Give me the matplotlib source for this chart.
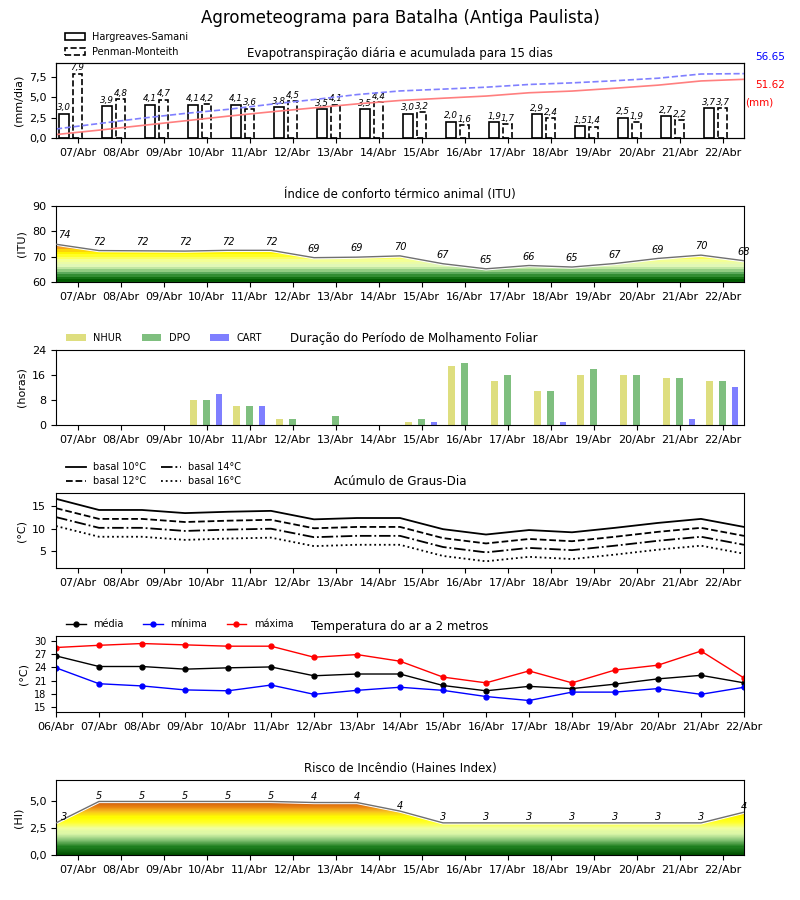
import numpy as np
import matplotlib
matplotlib.use("Agg")
import matplotlib.pyplot as plt
from matplotlib.colors import LinearSegmentedColormap, Normalize
from matplotlib.patches import Patch
from matplotlib.ticker import FuncFormatter

plt.rcParams["font.family"] = ["DejaVu Sans"]

# datas (17 pontos: 06/Abr .. 22/Abr)
datas = ["06/Abr", "07/Abr", "08/Abr", "09/Abr", "10/Abr", "11/Abr", "12/Abr", "13/Abr",
         "14/Abr", "15/Abr", "16/Abr", "17/Abr", "18/Abr", "19/Abr", "20/Abr", "21/Abr", "22/Abr"]
dias = datas[1:]

# evapotranspiracao diaria (mm/dia)
et_hs = [3.0, 3.9, 4.1, 4.1, 4.1, 3.8, 3.5, 3.5, 3.0, 2.0, 1.9, 2.9, 1.5, 2.5, 2.7, 3.7]
et_pm = [7.9, 4.8, 4.7, 4.2, 3.6, 4.5, 4.1, 4.4, 3.2, 1.6, 1.7, 2.4, 1.4, 1.9, 2.2, 3.7]
# acumulada (mm)
et_hs_acum = [3.0, 6.9, 11.0, 15.1, 19.2, 23.0, 26.5, 30.0, 33.0, 35.0, 36.9, 39.8, 41.3, 43.8, 46.5, 50.2, 51.62]
et_pm_acum = [7.9, 12.7, 17.4, 21.6, 25.2, 29.7, 33.8, 38.2, 41.4, 43.0, 44.7, 47.1, 48.5, 50.4, 52.6, 56.3, 56.65]

# ITU
itu = [74.9, 72.4, 72.3, 72.2, 72.5, 72.5, 69.6, 69.8, 70.3, 67.2, 65.2, 66.5, 65.9, 67.3, 69.3, 70.6, 68.4]

# molhamento foliar (horas)
nhur = [0, 0, 0, 8, 6, 2, 0, 0, 1, 19, 14, 11, 16, 16, 15, 14]
dpo = [0, 0, 0, 8, 6, 2, 3, 0, 2, 20, 16, 11, 18, 16, 15, 14]
cart = [0, 0, 0, 10, 6, 0, 0, 0, 1, 0, 0, 1, 0, 0, 2, 12]

# graus-dia
gd10 = [16.7, 14.2, 14.2, 13.5, 13.8, 14.0, 12.1, 12.4, 12.4, 9.9, 8.7, 9.7, 9.2, 10.2, 11.3, 12.2, 10.4]
gd12 = [14.6, 12.2, 12.2, 11.5, 11.8, 12.0, 10.1, 10.4, 10.4, 7.9, 6.7, 7.7, 7.2, 8.2, 9.3, 10.2, 8.4]
gd14 = [12.6, 10.2, 10.2, 9.5, 9.8, 10.0, 8.1, 8.4, 8.4, 5.9, 4.7, 5.7, 5.2, 6.2, 7.3, 8.2, 6.4]
gd16 = [10.6, 8.2, 8.2, 7.5, 7.8, 8.0, 6.1, 6.4, 6.4, 3.9, 2.7, 3.7, 3.2, 4.2, 5.3, 6.2, 4.4]

# temperatura do ar
t_med = [26.6, 24.2, 24.2, 23.6, 23.9, 24.1, 22.1, 22.5, 22.5, 19.9, 18.7, 19.7, 19.2, 20.2, 21.4, 22.2, 20.5]
t_min = [23.9, 20.3, 19.8, 18.9, 18.7, 20.0, 17.9, 18.8, 19.5, 18.8, 17.4, 16.5, 18.4, 18.4, 19.2, 17.9, 19.5]
t_max = [28.5, 29.0, 29.4, 29.1, 28.8, 28.8, 26.3, 26.9, 25.4, 21.8, 20.5, 23.2, 20.5, 23.4, 24.5, 27.7, 21.6]

# Haines
haines = [3.0, 5.0, 5.0, 5.0, 5.0, 5.0, 4.9, 4.9, 4.1, 3.0, 3.0, 3.0, 3.0, 3.0, 3.0, 3.0, 4.0]

virgula = FuncFormatter(lambda v, p: f"{v:.1f}".replace(".", ","))

itu_cmap = LinearSegmentedColormap.from_list("itu", [
    (0.0, "#005c00"), (0.05, "#1f7f1f"), (0.1, "#5aa95a"), (0.15, "#a6d890"),
    (0.2, "#e0f8b8"), (0.27, "#f2ff9c"), (0.32, "#ffff50"), (0.37, "#ffff00"),
    (0.4, "#ffe400"), (0.45, "#f4a020"), (0.5, "#e07010"), (1.0, "#c02000")])

hi_cmap = LinearSegmentedColormap.from_list("hi", [
    (0.0, "#005000"), (0.1, "#1f7f1f"), (0.2, "#8cc87a"), (0.28, "#d8f5a8"),
    (0.35, "#f0ffa0"), (0.43, "#ffff30"), (0.5, "#ffff00"), (0.58, "#f8c020"),
    (0.65, "#e88010"), (0.71, "#d06010"), (1.0, "#a03000")])


def fill_gradient(ax, x, y, y0, y1, cmap, nrows):
    poly = ax.fill_between(x, y0, y, facecolor="none", edgecolor="none")
    grad = np.linspace(y0, y1, nrows).reshape(-1, 1)
    im = ax.imshow(grad, extent=[x[0], x[-1], y0, y1], origin="lower", aspect="auto",
                   cmap=cmap, norm=Normalize(y0, y1), interpolation="nearest", zorder=1)
    im.set_clip_path(poly.get_paths()[0], transform=ax.transData)
    ax.plot(x, y, color="white", lw=2.4, zorder=2)
    ax.plot(x, y, color="#707070", lw=1.0, zorder=3)


def eixo_dias(ax):
    ax.set_xlim(-0.5, len(dias) - 0.5)
    ax.set_xticks(range(len(dias)))
    ax.set_xticklabels(dias, fontsize=8)
    ax.tick_params(axis="y", labelsize=8)


fig = plt.figure(figsize=(8, 9), dpi=100)
fig.suptitle("Agrometeograma para Batalha (Antiga Paulista)", fontsize=12, y=0.99)

L, W = 0.07, 0.86
x_dia = np.arange(len(dias))
x_borda = np.arange(len(datas)) - 0.5

# 1) evapotranspiracao
ax1 = fig.add_axes([L, 0.8467, W, 0.0833])
ax1.bar(x_dia - 0.31, et_hs, width=0.22, facecolor="white", edgecolor="black", lw=1.2, zorder=2)
ax1.bar(x_dia, et_pm, width=0.22, facecolor="white", edgecolor="black", lw=1.2, ls="--", zorder=2)
for i in range(len(dias)):
    ax1.text(x_dia[i] - 0.31, et_hs[i] + 0.15, f"{et_hs[i]:.1f}".replace(".", ","),
             ha="center", va="bottom", fontsize=6.3, style="italic")
    ax1.text(x_dia[i], et_pm[i] + 0.15, f"{et_pm[i]:.1f}".replace(".", ","),
             ha="center", va="bottom", fontsize=6.3, style="italic")
eixo_dias(ax1)
ax1.set_ylim(0, 9.2)
ax1.set_yticks([0, 2.5, 5, 7.5])
ax1.yaxis.set_major_formatter(virgula)
ax1.set_ylabel("(mm/dia)", fontsize=8)
ax1.set_title("Evapotranspiração diária e acumulada para 15 dias", fontsize=8.5, pad=4)
ax1b = ax1.twinx()
ax1b.plot(x_borda, et_hs_acum, color="#ff7f7f", lw=1.2)
ax1b.plot(x_borda, et_pm_acum, color="#8080ff", lw=1.2, ls="--")
ax1b.set_ylim(0, 66)
ax1b.set_yticks([])
ax1.legend(handles=[Patch(facecolor="white", edgecolor="black", lw=1.2, label="Hargreaves-Samani"),
                    Patch(facecolor="white", edgecolor="black", lw=1.2, ls="--", label="Penman-Monteith")],
           loc="lower left", bbox_to_anchor=(0.005, 1.0), frameon=False, fontsize=7,
           handlelength=2.0, borderpad=0.1, labelspacing=0.5)
fig.text(0.9435, 0.933, f"{et_pm_acum[-1]:.2f}", color="blue", fontsize=7.5)
fig.text(0.9435, 0.902, f"{et_hs_acum[-1]:.2f}", color="red", fontsize=7.5)
fig.text(0.932, 0.883, "(mm)", color="red", fontsize=7.5)

# 2) ITU
ax2 = fig.add_axes([L, 0.6867, W, 0.0844])
fill_gradient(ax2, x_borda, itu, 60, 90, itu_cmap, 30)
for i, v in enumerate(itu):
    xt = x_borda[i] + (0.2 if i == 0 else 0)
    ax2.text(xt, v + 1.5, str(int(v)), ha="center", va="bottom", fontsize=7, style="italic")
eixo_dias(ax2)
ax2.set_ylim(60, 90)
ax2.set_yticks([60, 70, 80, 90])
ax2.set_ylabel("(ITU)", fontsize=8)
ax2.set_title("Índice de conforto térmico animal (ITU)", fontsize=8.5, pad=6)

# 3) molhamento foliar
ax3 = fig.add_axes([L, 0.5278, W, 0.0833])
ax3.bar(x_dia - 0.3, nhur, width=0.16, color="y", alpha=0.5, label="NHUR")
ax3.bar(x_dia, dpo, width=0.16, color="g", alpha=0.5, label="DPO")
ax3.bar(x_dia + 0.29, cart, width=0.16, color="b", alpha=0.5, label="CART")
eixo_dias(ax3)
ax3.set_ylim(0, 24)
ax3.set_yticks([0, 8, 16, 24])
ax3.set_ylabel("(horas)", fontsize=8)
ax3.set_title("Duração do Período de Molhamento Foliar", fontsize=8.5, pad=6, x=0.52)
ax3.legend(loc="lower left", bbox_to_anchor=(0.005, 1.0), ncol=3, frameon=False, fontsize=7,
           handlelength=2.0, columnspacing=2.0, borderpad=0.2)

# 4) graus-dia
ax4 = fig.add_axes([L, 0.3689, W, 0.0833])
ax4.plot(x_borda, gd10, color="black", lw=1.3, ls="-", label="basal 10°C")
ax4.plot(x_borda, gd12, color="black", lw=1.3, ls="--", label="basal 12°C")
ax4.plot(x_borda, gd14, color="black", lw=1.3, ls="-.", label="basal 14°C")
ax4.plot(x_borda, gd16, color="black", lw=1.3, ls=":", label="basal 16°C")
eixo_dias(ax4)
ax4.set_ylim(1.2, 18.0)
ax4.set_yticks([5, 10, 15])
ax4.set_ylabel("(°C)", fontsize=8)
ax4.set_title("Acúmulo de Graus-Dia", fontsize=8.5, pad=6)
ax4.legend(loc="lower left", bbox_to_anchor=(0.005, 1.0), ncol=2, frameon=False, fontsize=7,
           handlelength=2.0, columnspacing=1.5, labelspacing=0.4, borderpad=0.2)

# 5) temperatura
ax5 = fig.add_axes([L, 0.2089, W, 0.0844])
x_t = np.arange(len(datas))
ax5.plot(x_t, t_med, color="black", lw=1, marker="o", ms=3.5, label="média")
ax5.plot(x_t, t_min, color="blue", lw=1, marker="o", ms=3.5, label="mínima")
ax5.plot(x_t, t_max, color="red", lw=1, marker="o", ms=3.5, label="máxima")
ax5.set_xlim(0, len(datas) - 1)
ax5.set_xticks(x_t)
ax5.set_xticklabels(datas, fontsize=8)
ax5.set_ylim(13.9, 31.1)
ax5.set_yticks([15, 18, 21, 24, 27, 30])
ax5.tick_params(axis="y", labelsize=7)
ax5.set_ylabel("(°C)", fontsize=8)
ax5.set_title("Temperatura do ar a 2 metros", fontsize=8.5, pad=4)
ax5.legend(loc="lower left", bbox_to_anchor=(0.005, 1.0), ncol=3, frameon=False, fontsize=7,
           handlelength=2.0, columnspacing=2.0, borderpad=0.2)

# 6) Haines
ax6 = fig.add_axes([L, 0.05, W, 0.0833])
fill_gradient(ax6, x_borda, haines, 0, 7, hi_cmap, 70)
for i, v in enumerate(haines):
    xt = x_borda[i] + (0.2 if i == 0 else 0)
    ax6.text(xt, v + 0.05, str(int(v)), ha="center", va="bottom", fontsize=7, style="italic")
eixo_dias(ax6)
ax6.set_ylim(0, 7)
ax6.set_yticks([0, 2.5, 5])
ax6.yaxis.set_major_formatter(virgula)
ax6.set_ylabel("(HI)", fontsize=8)
ax6.set_title("Risco de Incêndio (Haines Index)", fontsize=8.5, pad=6)

fig.savefig("out.png", dpi=100)
